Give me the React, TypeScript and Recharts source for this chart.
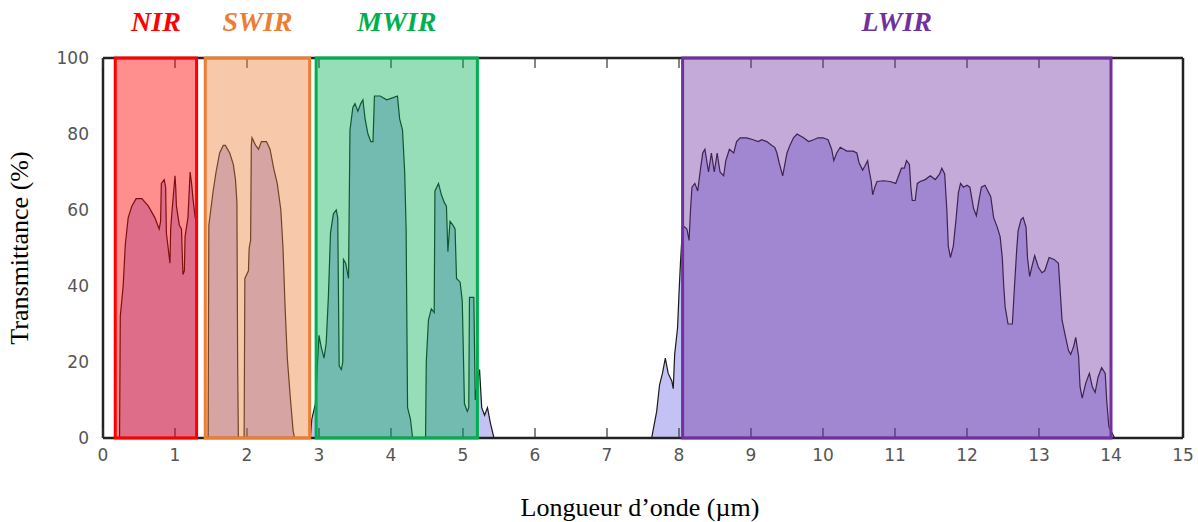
import React from "react";
import { ComposedChart, Area, XAxis, YAxis, ReferenceArea, Label } from "recharts";

// atmospheric windows (µm)
const bandNames = ["NIR", "SWIR", "MWIR", "LWIR"];
const bandStart = [0.17, 1.42, 2.96, 8.05];
const bandEnd = [1.3, 2.87, 5.2, 14.0];

// transmittance curve, [wavelength µm, %]
const nirCurve: [number, number][] = [
  [0, 0], [0.23, 0], [0.24, 32], [0.28, 40], [0.31, 51], [0.35, 58], [0.4, 61], [0.46, 63],
  [0.54, 63], [0.63, 61], [0.72, 58], [0.78, 55], [0.8, 57], [0.81, 67], [0.85, 68], [0.87, 66],
  [0.88, 54], [0.93, 46], [0.94, 55], [0.96, 60], [1.0, 69], [1.01, 66], [1.02, 61], [1.06, 56],
  [1.09, 55], [1.11, 43], [1.13, 44], [1.14, 53], [1.18, 58], [1.21, 70], [1.23, 67], [1.25, 63],
  [1.28, 58], [1.3, 57], [1.31, 0],
];

const swirCurve: [number, number][] = [
  [1.46, 0], [1.47, 56], [1.53, 65], [1.57, 70], [1.62, 75], [1.67, 77], [1.7, 77], [1.76, 75],
  [1.81, 72], [1.84, 68], [1.86, 62], [1.87, 20], [1.88, 0], [1.96, 0], [1.97, 42], [2.02, 44],
  [2.03, 50], [2.05, 52], [2.06, 77], [2.07, 79], [2.12, 77], [2.16, 76], [2.2, 78], [2.27, 78],
  [2.32, 76], [2.37, 71], [2.42, 67], [2.47, 60], [2.5, 50], [2.53, 34], [2.56, 21], [2.6, 11],
  [2.64, 2], [2.66, 0],
];

const mwirCurve: [number, number][] = [
  [2.88, 0], [2.9, 5], [2.95, 9], [2.98, 20], [3.0, 27], [3.03, 24], [3.07, 21], [3.1, 25],
  [3.13, 37], [3.16, 54], [3.2, 59], [3.24, 60], [3.26, 58], [3.28, 19], [3.31, 18], [3.33, 20],
  [3.34, 47], [3.37, 46], [3.41, 42], [3.43, 81], [3.47, 87], [3.5, 88], [3.54, 86], [3.58, 88],
  [3.61, 89], [3.64, 84], [3.68, 80], [3.72, 78], [3.75, 78], [3.77, 90], [3.85, 90], [3.94, 89],
  [4.02, 89.5], [4.09, 90], [4.12, 84], [4.16, 81], [4.19, 70], [4.21, 55], [4.23, 8], [4.27, 5],
  [4.3, 0], [4.48, 0], [4.49, 20], [4.52, 31], [4.56, 34], [4.6, 33], [4.61, 65], [4.66, 67],
  [4.7, 64], [4.74, 62], [4.77, 61], [4.79, 49], [4.82, 57], [4.86, 56], [4.89, 55], [4.91, 42],
  [4.96, 41], [4.99, 36], [5.02, 9], [5.06, 7], [5.08, 8], [5.09, 37], [5.15, 37], [5.17, 10],
  [5.2, 15], [5.23, 18], [5.26, 8], [5.3, 6], [5.34, 8], [5.38, 4], [5.43, 0],
];

const lwirCurve: [number, number][] = [
  [7.62, 0], [7.64, 2], [7.69, 7], [7.73, 14], [7.77, 17], [7.81, 21], [7.85, 17], [7.9, 15],
  [7.92, 13], [7.94, 22], [7.98, 29], [8.0, 38], [8.02, 46], [8.05, 56], [8.11, 55], [8.14, 52],
  [8.16, 60], [8.18, 66], [8.22, 67], [8.26, 65], [8.3, 71], [8.33, 75], [8.36, 76], [8.41, 70],
  [8.45, 75], [8.49, 70], [8.53, 75], [8.57, 70], [8.62, 69], [8.65, 73], [8.7, 76], [8.76, 75],
  [8.8, 78], [8.85, 79], [8.94, 79], [9.03, 78.5], [9.1, 78], [9.15, 78.5], [9.22, 78], [9.29, 77],
  [9.33, 76.5], [9.36, 75], [9.39, 72.5], [9.44, 69], [9.47, 72], [9.5, 75], [9.54, 77], [9.59, 79],
  [9.64, 80], [9.73, 79], [9.8, 78], [9.87, 78.5], [9.93, 79], [10.0, 79], [10.07, 78.5], [10.12, 76],
  [10.15, 73], [10.19, 75], [10.24, 76.5], [10.33, 75.5], [10.42, 75.5], [10.47, 75], [10.5, 72.5],
  [10.55, 70.5], [10.58, 71.5], [10.62, 73], [10.64, 70.5], [10.67, 67.5], [10.69, 64], [10.72, 66],
  [10.75, 67.5], [10.84, 67.7], [10.93, 67.5], [11.01, 67], [11.05, 69], [11.09, 71], [11.13, 71],
  [11.16, 73], [11.2, 72], [11.22, 66], [11.24, 62.5], [11.28, 62.5], [11.31, 67], [11.35, 67.5],
  [11.42, 68], [11.49, 69], [11.56, 68], [11.62, 69.5], [11.65, 71], [11.69, 69.5], [11.72, 60],
  [11.74, 50.5], [11.77, 47.5], [11.81, 50.5], [11.85, 58], [11.88, 64.5], [11.91, 67], [11.95, 66],
  [12.0, 66.5], [12.04, 66], [12.09, 60.5], [12.13, 58.5], [12.17, 63], [12.2, 66], [12.25, 66.5],
  [12.29, 65], [12.33, 63.5], [12.37, 58], [12.42, 55.5], [12.46, 53], [12.49, 47.5], [12.51, 40],
  [12.53, 34.5], [12.57, 30], [12.63, 30], [12.66, 40], [12.69, 49.5], [12.71, 54.5], [12.75, 57.5],
  [12.78, 58], [12.82, 55.5], [12.84, 47.5], [12.87, 42.5], [12.9, 45], [12.94, 48], [12.99, 45],
  [13.04, 43.5], [13.08, 44], [13.14, 47.5], [13.21, 47], [13.27, 46], [13.29, 40], [13.32, 31],
  [13.37, 26.5], [13.41, 23], [13.44, 22], [13.48, 24], [13.51, 26.5], [13.55, 21.5], [13.57, 13.5],
  [13.6, 10.5], [13.65, 14.5], [13.7, 17], [13.74, 13.5], [13.78, 12], [13.82, 16], [13.87, 18.5],
  [13.92, 17], [13.94, 10], [13.97, 3], [14.05, 0], [15, 0],
];

const xTicks = [0, 1, 2, 3, 4, 5, 6, 7, 8, 9, 10, 11, 12, 13, 14, 15];
const yTicks = [0, 20, 40, 60, 80, 100];

const bandColors = ["#ff0000", "#ed7d31", "#00b050", "#7030a0"];
const bandOpacity = [0.44, 0.42, 0.41, 0.41];

const data = [...nirCurve, ...swirCurve, ...mwirCurve, ...lwirCurve].map(([x, t]) => ({ x, t }));

const tickFont = { fontFamily: "DejaVu Sans", fontSize: 17, fill: "#555" };
const frame = { stroke: "#222", strokeWidth: 2.5 };
const tickMark = { stroke: "#333", strokeWidth: 1.2 };
const noLabel = () => <g />;

const XTitle = (props: any) => {
  const { x, y, width } = props.viewBox;
  return (
    <text x={x + width / 2 - 3} y={y + 78} textAnchor="middle"
      style={{ fontFamily: "Liberation Serif", fontSize: 26, fill: "#000" }}>
      Longueur d’onde (µm)
    </text>
  );
};

const YTitle = (props: any) => {
  const { y, height } = props.viewBox;
  const cx = 28;
  const cy = y + height / 2;
  return (
    <text x={cx} y={cy} textAnchor="middle" transform={`rotate(-90, ${cx}, ${cy})`}
      style={{ fontFamily: "Liberation Serif", fontSize: 26, fill: "#000" }}>
      Transmittance (%)
    </text>
  );
};

const App = () => {
  return (
    <div style={{ position: "absolute", left: 0, top: 0, width: 1198, height: 522, background: "#fff" }}>
      <ComposedChart width={1198} height={522} data={data}
        margin={{ top: 58, right: 15, bottom: 54, left: 58 }}>
        {/* labelled axes */}
        <XAxis type="number" dataKey="x" domain={[0, 15]} ticks={xTicks} height={30}
          tickSize={0} tickMargin={11} tick={tickFont} axisLine={frame} tickLine={false}
          label={<Label content={<XTitle />} />} />
        <YAxis type="number" domain={[0, 100]} ticks={yTicks} width={45}
          tickSize={0} tickMargin={14} tick={tickFont} axisLine={frame} tickLine={false}
          label={<Label content={<YTitle />} />} />
        {/* inward tick marks + box frame */}
        <XAxis xAxisId="bottomTicks" orientation="bottom" mirror type="number" dataKey="x" domain={[0, 15]}
          ticks={xTicks} height={10} tick={noLabel} tickSize={10} axisLine={false} tickLine={tickMark} />
        <XAxis xAxisId="top" orientation="top" mirror type="number" dataKey="x" domain={[0, 15]}
          ticks={xTicks} height={10} tick={noLabel} tickSize={10} axisLine={frame} tickLine={tickMark} />
        <YAxis yAxisId="leftTicks" orientation="left" mirror type="number" domain={[0, 100]}
          ticks={yTicks} width={10} tick={noLabel} tickSize={9} axisLine={false} tickLine={tickMark} />
        <YAxis yAxisId="right" orientation="right" mirror type="number" domain={[0, 100]}
          ticks={yTicks} width={10} tick={noLabel} tickSize={10} axisLine={frame} tickLine={tickMark} />
        <Area type="linear" dataKey="t" stroke="#1a1a1a" strokeWidth={1.2} fill="#c4c2f4" fillOpacity={1}
          dot={false} activeDot={false} isAnimationActive={false} />
        {bandNames.map((name, i) => (
          <ReferenceArea key={name} x1={bandStart[i]} x2={bandEnd[i]} y1={0} y2={100} zIndex={600}
            fill={bandColors[i]} fillOpacity={bandOpacity[i]} stroke={bandColors[i]} strokeWidth={3}
            label={{
              value: name, position: "top", offset: 27, fill: bandColors[i],
              fontSize: 28, fontWeight: "bold", fontStyle: "italic", fontFamily: "Liberation Serif",
            }} />
        ))}
      </ComposedChart>
    </div>
  );
};

export default App;
